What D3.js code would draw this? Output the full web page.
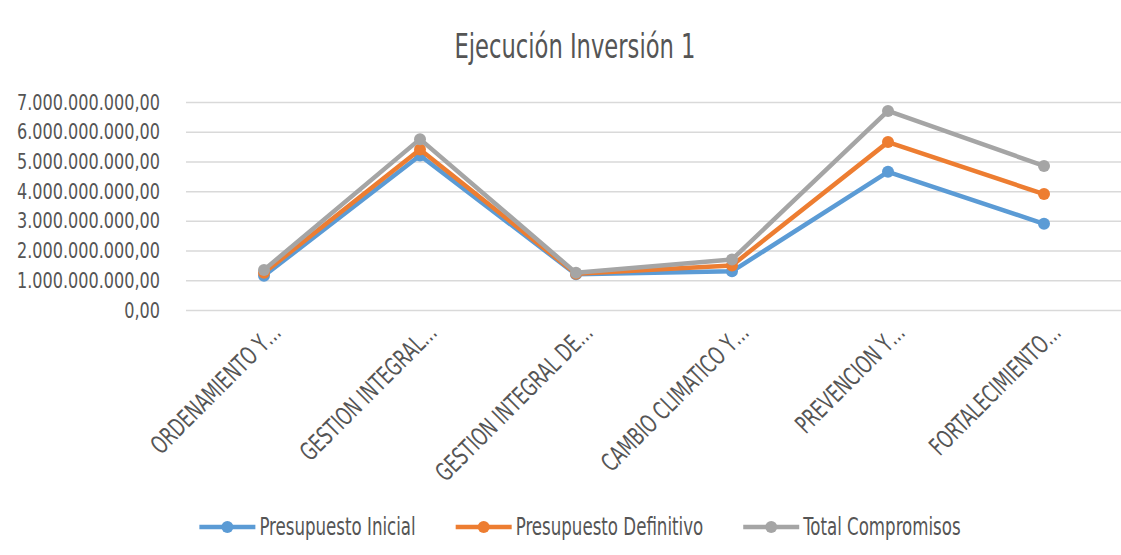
<!DOCTYPE html>
<html>
<head>
<meta charset="utf-8">
<script src="https://cdn.jsdelivr.net/npm/d3@7"></script>
<style>
  body { margin: 0; background: #fff; }
  text { font-family: "Liberation Sans Narrow", "DejaVu Sans Condensed", "Liberation Sans", sans-serif; }
</style>
</head>
<body>
<div id="vis"></div>
<script>
// data
const categories = ['ORDENAMIENTO Y…', 'GESTION INTEGRAL…', 'GESTION INTEGRAL DE…',
  'CAMBIO CLIMATICO Y…', 'PREVENCION Y…', 'FORTALECIMIENTO…'];
const presupuestoInicial    = [1.15e9, 5.20e9, 1.20e9, 1.30e9, 4.65e9, 2.90e9];
const presupuestoDefinitivo = [1.25e9, 5.40e9, 1.22e9, 1.50e9, 5.65e9, 3.90e9];
const totalCompromisos      = [1.35e9, 5.75e9, 1.25e9, 1.70e9, 6.70e9, 4.85e9];
const yTicks = [0, 1e9, 2e9, 3e9, 4e9, 5e9, 6e9, 7e9];
const seriesNames = ['Presupuesto Inicial', 'Presupuesto Definitivo', 'Total Compromisos'];
const seriesColors = ['#5B9BD5', '#ED7D31', '#A5A5A5'];

const series = [presupuestoInicial, presupuestoDefinitivo, totalCompromisos];

const W = 1121, H = 555;
const plot = {left: 186, right: 1121, top: 102, bottom: 310};

const svg = d3.select('#vis').append('svg')
  .attr('width', W).attr('height', H);

// squeeze text horizontally (original font is very condensed)
function squeeze(sel, k) {
  sel.each(function() {
    const len = this.getComputedTextLength();
    d3.select(this).attr('textLength', len * k).attr('lengthAdjust', 'spacingAndGlyphs');
  });
}

const es = d3.formatLocale({decimal: ',', thousands: '.', grouping: [3], currency: ['$', '']});
const fmt = es.format(',.2f');

const x = d3.scalePoint()
  .domain(categories)
  .range([plot.left, 1122])
  .padding(0.5);

const y = d3.scaleLinear()
  .domain([0, 7e9])
  .range([plot.bottom, plot.top]);

// title
svg.append('text')
  .attr('x', 575).attr('y', 58)
  .attr('text-anchor', 'middle')
  .style('font-size', '34px')
  .style('fill', '#555')
  .text('Ejecución Inversión 1')
  .call(squeeze, 0.74);

// y axis + gridlines
const yAxis = d3.axisLeft(y)
  .tickValues(yTicks)
  .tickSize(-(plot.right - plot.left))
  .tickPadding(26)
  .tickFormat(fmt);

const gy = svg.append('g')
  .attr('transform', `translate(${plot.left},0)`)
  .call(yAxis);
gy.select('.domain').remove();
gy.selectAll('.tick line').attr('stroke', '#D9D9D9').attr('stroke-width', 1.5);
const yLabels = gy.selectAll('.tick text')
  .style('font-size', '22px')
  .style('fill', '#555');
// fit the widest label into the room left of the plot
const widest = d3.max(yLabels.nodes(), n => n.getComputedTextLength());
yLabels.call(squeeze, 143 / widest);

// x axis labels
const xAxis = d3.axisBottom(x).tickSize(0);
const gx = svg.append('g')
  .attr('transform', `translate(0,${plot.bottom})`)
  .call(xAxis);
gx.select('.domain').remove();
gx.selectAll('.tick text')
  .attr('text-anchor', 'end')
  .attr('dy', 0)
  .attr('x', 18)
  .attr('y', 24)
  .attr('transform', 'rotate(-45, 18, 24)')
  .style('font-size', '25px')
  .style('fill', '#555')
  .call(squeeze, 0.75);

// lines
const line = d3.line()
  .x((d, i) => x(categories[i]))
  .y(d => y(d));

series.forEach((vals, s) => {
  svg.append('path')
    .datum(vals)
    .attr('fill', 'none')
    .attr('stroke', seriesColors[s])
    .attr('stroke-width', 4.5)
    .attr('stroke-linejoin', 'round')
    .attr('d', line);
  svg.selectAll('.pt' + s)
    .data(vals)
    .join('circle')
    .attr('class', 'pt' + s)
    .attr('cx', (d, i) => x(categories[i]))
    .attr('cy', d => y(d))
    .attr('r', 6)
    .attr('fill', seriesColors[s]);
});

// legend
const legend = svg.append('g');
let lx = 0;
seriesNames.forEach((name, i) => {
  const g = legend.append('g');
  g.append('line')
    .attr('x1', 0).attr('x2', 56).attr('y1', 0).attr('y2', 0)
    .attr('stroke', seriesColors[i]).attr('stroke-width', 4.5);
  g.append('circle').attr('cx', 28).attr('cy', 0).attr('r', 6).attr('fill', seriesColors[i]);
  const t = g.append('text')
    .attr('x', 60).attr('y', 8)
    .style('font-size', '25px')
    .style('fill', '#555')
    .text(name)
    .call(squeeze, 0.74);
  const w = 60 + (+t.attr('textLength'));
  g.attr('transform', `translate(${lx},0)`);
  lx += w + 40;
});
const totalW = lx - 40;
legend.attr('transform', `translate(${580 - totalW / 2},527)`);
</script>
</body>
</html>
